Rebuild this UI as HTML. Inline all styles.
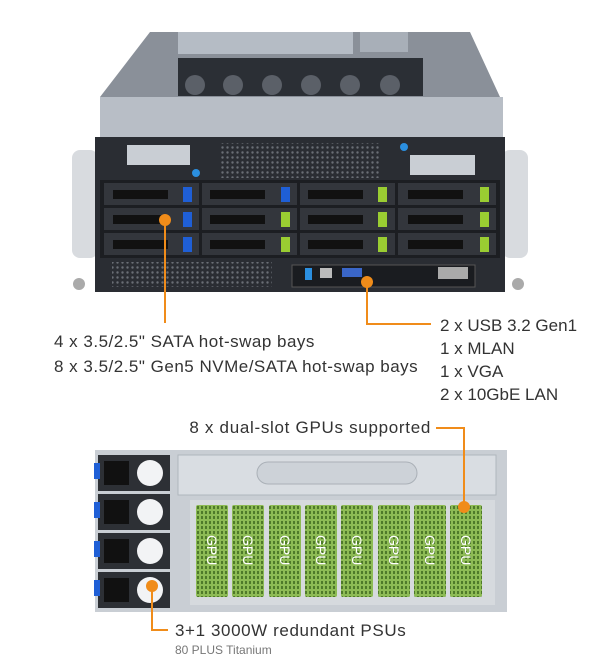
<!DOCTYPE html>
<html><head><meta charset="utf-8"><style>
body{margin:0;width:600px;height:660px;background:#fff;position:relative;overflow:hidden;font-family:"Liberation Sans",sans-serif;color:#333}
.t{position:absolute;font-size:17px;line-height:23px;white-space:nowrap}
</style></head><body>
<svg width="600" height="660" style="position:absolute;left:0;top:0">
<defs>
<pattern id="vent" width="5" height="5" patternUnits="userSpaceOnUse"><rect width="5" height="5" fill="#2a2d33"/><circle cx="2.5" cy="2.5" r="1.2" fill="#6a6e76"/></pattern>
<pattern id="gvent" width="4" height="5" patternUnits="userSpaceOnUse"><rect width="4" height="5" fill="#8dbb55"/><rect x="1" y="1" width="2" height="3" fill="#4f7a2a"/></pattern>
</defs>
<polygon points="150,32 470,32 500,97 100,97" fill="#8a9099"/>
<rect x="178" y="32" width="175" height="22" fill="#b5bcc5"/>
<rect x="360" y="32" width="48" height="20" fill="#a8afb8"/>
<rect x="178" y="58" width="245" height="38" fill="#2b2f35"/>
<g fill="#5b6068"><circle cx="195" cy="85" r="10"/><circle cx="233" cy="85" r="10"/><circle cx="272" cy="85" r="10"/><circle cx="311" cy="85" r="10"/><circle cx="350" cy="85" r="10"/><circle cx="390" cy="85" r="10"/></g>
<rect x="100" y="97" width="403" height="42" fill="#b8bec6"/>
<rect x="72" y="150" width="26" height="108" rx="8" fill="#d8dbdf"/>
<rect x="502" y="150" width="26" height="108" rx="8" fill="#d8dbdf"/>
<circle cx="79" cy="284" r="6" fill="#aaa"/><circle cx="518" cy="284" r="6" fill="#aaa"/>
<rect x="95" y="137" width="410" height="155" fill="#2a2d33"/>
<rect x="127" y="145" width="63" height="20" fill="#c9ced4"/>
<rect x="410" y="155" width="65" height="20" fill="#c9ced4"/>
<rect x="220" y="143" width="160" height="35" fill="url(#vent)"/>
<circle cx="196" cy="173" r="4" fill="#2b8fe0"/><circle cx="404" cy="147" r="4" fill="#2b8fe0"/>
<rect x="100" y="180" width="400" height="78" fill="#1c1e22"/>
<g>
<rect x="104" y="183" width="95" height="22" fill="#33363c"/>
<rect x="104" y="208" width="95" height="22" fill="#33363c"/>
<rect x="104" y="233" width="95" height="22" fill="#33363c"/>
<rect x="202" y="183" width="95" height="22" fill="#33363c"/>
<rect x="202" y="208" width="95" height="22" fill="#33363c"/>
<rect x="202" y="233" width="95" height="22" fill="#33363c"/>
<rect x="300" y="183" width="95" height="22" fill="#33363c"/>
<rect x="300" y="208" width="95" height="22" fill="#33363c"/>
<rect x="300" y="233" width="95" height="22" fill="#33363c"/>
<rect x="398" y="183" width="98" height="22" fill="#33363c"/>
<rect x="398" y="208" width="98" height="22" fill="#33363c"/>
<rect x="398" y="233" width="98" height="22" fill="#33363c"/>
</g>
<g fill="#111"><rect x="113" y="190" width="55" height="9"/><rect x="113" y="215" width="55" height="9"/><rect x="113" y="240" width="55" height="9"/><rect x="210" y="190" width="55" height="9"/><rect x="210" y="215" width="55" height="9"/><rect x="210" y="240" width="55" height="9"/><rect x="308" y="190" width="55" height="9"/><rect x="308" y="215" width="55" height="9"/><rect x="308" y="240" width="55" height="9"/><rect x="408" y="190" width="55" height="9"/><rect x="408" y="215" width="55" height="9"/><rect x="408" y="240" width="55" height="9"/></g>
<g fill="#1f5fd6"><rect x="183" y="187" width="9" height="15"/><rect x="183" y="212" width="9" height="15"/><rect x="183" y="237" width="9" height="15"/><rect x="281" y="187" width="9" height="15"/></g>
<g fill="#9acd32"><rect x="281" y="212" width="9" height="15"/><rect x="281" y="237" width="9" height="15"/><rect x="378" y="187" width="9" height="15"/><rect x="378" y="212" width="9" height="15"/><rect x="378" y="237" width="9" height="15"/><rect x="480" y="187" width="9" height="15"/><rect x="480" y="212" width="9" height="15"/><rect x="480" y="237" width="9" height="15"/></g>
<rect x="112" y="262" width="160" height="25" fill="url(#vent)"/>
<rect x="292" y="265" width="183" height="22" fill="#1a1c20" stroke="#555" stroke-width="1"/>
<rect x="305" y="268" width="7" height="12" fill="#2b8fe0"/><rect x="320" y="268" width="12" height="10" fill="#bbb"/>
<rect x="342" y="268" width="20" height="9" fill="#3a66c8"/>
<rect x="438" y="267" width="30" height="12" fill="#aaa"/>
<rect x="95" y="450" width="412" height="162" fill="#c9ced4"/>
<rect x="178" y="455" width="318" height="40" fill="#d9dde2" stroke="#b0b6bd"/>
<rect x="257" y="462" width="160" height="22" rx="11" fill="#cdd2d8" stroke="#aab0b7"/>
<rect x="190" y="500" width="305" height="105" fill="#d6dade"/>
<g fill="#2d3035"><rect x="98" y="455" width="72" height="36"/><rect x="98" y="494" width="72" height="36"/><rect x="98" y="533" width="72" height="36"/><rect x="98" y="572" width="72" height="36"/></g>
<g fill="#111"><rect x="104" y="461" width="25" height="24"/><rect x="104" y="500" width="25" height="24"/><rect x="104" y="539" width="25" height="24"/><rect x="104" y="578" width="25" height="24"/></g>
<g fill="#f2f3f5"><circle cx="150" cy="473" r="13"/><circle cx="150" cy="512" r="13"/><circle cx="150" cy="551" r="13"/><circle cx="150" cy="590" r="13"/></g>
<g fill="#1f5fd6"><rect x="94" y="463" width="6" height="16"/><rect x="94" y="502" width="6" height="16"/><rect x="94" y="541" width="6" height="16"/><rect x="94" y="580" width="6" height="16"/></g>
<g>
<rect x="196" y="505" width="32" height="92" rx="2" fill="url(#gvent)"/>
<rect x="232" y="505" width="32" height="92" rx="2" fill="url(#gvent)"/>
<rect x="269" y="505" width="32" height="92" rx="2" fill="url(#gvent)"/>
<rect x="305" y="505" width="32" height="92" rx="2" fill="url(#gvent)"/>
<rect x="341" y="505" width="32" height="92" rx="2" fill="url(#gvent)"/>
<rect x="378" y="505" width="32" height="92" rx="2" fill="url(#gvent)"/>
<rect x="414" y="505" width="32" height="92" rx="2" fill="url(#gvent)"/>
<rect x="450" y="505" width="32" height="92" rx="2" fill="url(#gvent)"/>
</g>
<g fill="#fff" font-family="Liberation Sans" font-size="14">
<text transform="translate(207,535) rotate(90)">GPU</text><text transform="translate(243,535) rotate(90)">GPU</text><text transform="translate(280,535) rotate(90)">GPU</text><text transform="translate(316,535) rotate(90)">GPU</text><text transform="translate(352,535) rotate(90)">GPU</text><text transform="translate(389,535) rotate(90)">GPU</text><text transform="translate(425,535) rotate(90)">GPU</text><text transform="translate(461,535) rotate(90)">GPU</text>
</g>
<g stroke="#f08c1a" stroke-width="2" fill="none">
<polyline points="165,220 165,323"/>
<polyline points="367,282 367,324 431,324"/>
<polyline points="436,428 464,428 464,507"/>
<polyline points="152,586 152,630 168,630"/>
</g>
<g fill="#f08c1a"><circle cx="165" cy="220" r="6"/><circle cx="367" cy="282" r="6"/><circle cx="464" cy="507" r="6"/><circle cx="152" cy="586" r="6"/></g>
</svg>
<div class="t" style="left:54px;top:330px;letter-spacing:0.5px">4 x 3.5/2.5" SATA hot-swap bays</div>
<div class="t" style="left:54px;top:355px;letter-spacing:0.5px">8 x 3.5/2.5" Gen5 NVMe/SATA hot-swap bays</div>
<div class="t" style="left:440px;top:314px">2 x USB 3.2 Gen1</div>
<div class="t" style="left:440px;top:337px">1 x MLAN</div>
<div class="t" style="left:440px;top:360px">1 x VGA</div>
<div class="t" style="left:440px;top:383px">2 x 10GbE LAN</div>
<div class="t" style="right:169px;top:416px;letter-spacing:0.7px">8 x dual-slot GPUs supported</div>
<div class="t" style="left:175px;top:619px;letter-spacing:0.6px">3+1 3000W redundant PSUs</div>
<div class="t" style="left:175px;top:642px;font-size:12px;line-height:16px;color:#777">80 PLUS Titanium</div>
</body></html>
